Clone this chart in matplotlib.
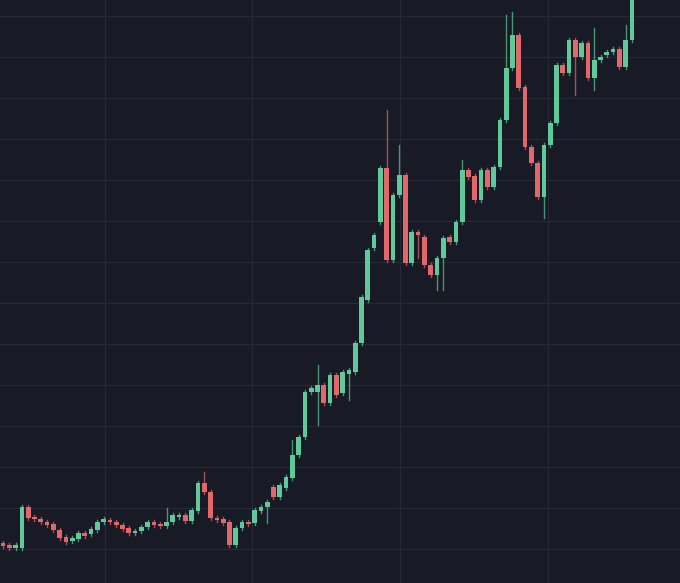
import matplotlib
matplotlib.use("Agg")
import matplotlib.pyplot as plt

# OHLC values (price units); price = 583 - pixel y in reference
opens_y  = [543,545,548,548,507,517,519,522,524,530,537,541,539,533,534,530,522,520,522,525,528,533,531,527,522,524,526,522,517,515,521,511,483,492,518,519,522,545,528,522,523,511,507,487,497,488,
            478,455,437,392,392,385,403,375,393,374,372,343,300,248,222,168,260,195,175,263,232,237,265,275,258,237,242,
            222,170,176,200,170,187,167,120,68,35,87,147,163,197,145,123,65,73,40,57,43,78,60,55,52,49,67,40]
closes_y = [546,548,545,507,518,519,522,525,530,538,542,538,533,536,529,522,519,522,525,529,533,531,527,522,525,526,522,515,515,521,510,483,492,518,520,523,545,528,522,524,510,507,502,497,485,477,
            455,437,392,388,385,403,375,395,372,370,343,297,250,235,168,260,195,175,263,232,235,265,275,258,238,242,222,
            170,177,200,170,187,167,120,68,35,88,147,163,197,145,123,65,73,40,57,43,78,60,57,52,49,67,40,-5]
wick_top = {26:508, 32:472, 43:485, 46:440, 50:365, 61:110, 63:145, 73:160, 80:15, 81:12, 94:28, 99:25, 100:32}
wick_bot = {42:523, 50:425, 55:400, 61:262, 66:258, 69:290, 70:290, 86:218, 91:95, 94:90}

prices_o = [583 - v for v in opens_y]
prices_c = [583 - v for v in closes_y]

bg = "#181a25"
fig = plt.figure(figsize=(6.8, 5.83), dpi=100, facecolor=bg)
ax = fig.add_axes([0, 0, 1, 1])
ax.set_facecolor(bg)
n = len(prices_o)
step = (632 - 3) / (n - 1)
for y in range(16, 583, 41):
    ax.axhline(583 - y - 0.5 + 0.5, color="#262936", lw=0.9, zorder=0)
for x in [105, 252, 400, 548]:
    ax.axvline(x, color="#262936", lw=0.9, zorder=0)
green, red = "#5fc99a", "#e0676a"
for i, (o, c) in enumerate(zip(prices_o, prices_c)):
    x = 3 + i * step
    col = green if c >= o else red
    hi = max(o, c) + 2
    lo = min(o, c) - 2
    if i in wick_top:
        hi = 583 - wick_top[i]
    if i in wick_bot:
        lo = 583 - wick_bot[i]
    ax.plot([x, x], [lo, hi], color=col, lw=1, alpha=0.7, zorder=2)
    h = max(abs(c - o), 2)
    ax.bar(x, h, bottom=min(o, c), width=step * 0.75, color=col, zorder=3, linewidth=0)
ax.set_xlim(0, 680)
ax.set_ylim(0, 583)
ax.axis("off")
fig.savefig("out.png", dpi=100, facecolor=bg)
